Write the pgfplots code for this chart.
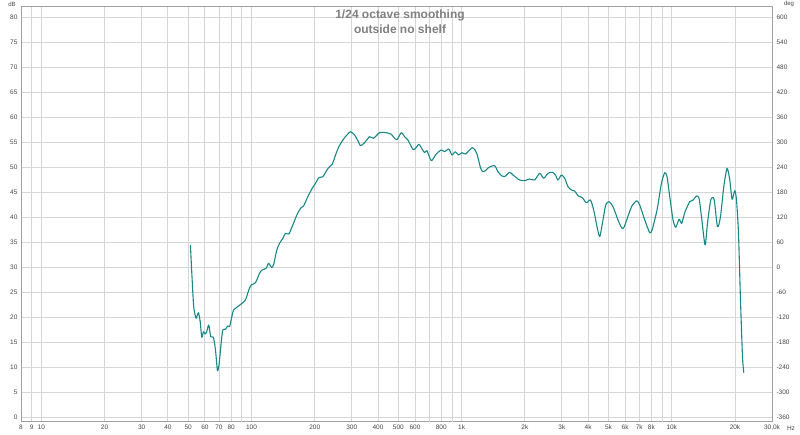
\documentclass[border=0pt]{standalone}
\usepackage{pgfplots}
\pgfplotsset{compat=1.18}
\usepackage{fontspec}
\setmainfont{Liberation Sans}

\definecolor{curve}{RGB}{24,135,135}
\definecolor{gridc}{RGB}{214,214,214}
\definecolor{framec}{RGB}{160,160,160}
\definecolor{labc}{RGB}{70,70,70}
\definecolor{titc}{RGB}{128,128,128}

\begin{document}
\begin{tikzpicture}[x=1pt,y=1pt]
\path[use as bounding box] (0,0) rectangle (800,435);

% right-hand phase scale (labels only)
\begin{axis}[
    at={(21pt,13pt)}, anchor=south west,
    scale only axis, width=751pt, height=415pt,
    xmode=log, xmin=8, xmax=30000,
    ymin=-372, ymax=624,
    axis y line*=right, axis x line=none,
    ytick={-360,-300,...,600},
    major tick length=0pt,
    axis line style={draw=none},
    yticklabel style={font=\fontsize{6.5}{7}\selectfont, text=labc, xshift=1pt},
    /pgf/number format/assume math mode=true,
]
\end{axis}

\begin{axis}[
    at={(21pt,13pt)}, anchor=south west,
    scale only axis, width=751pt, height=415pt,
    xmode=log, xmin=8, xmax=30000,
    ymin=-1, ymax=82,
    xtick={8,9,10,20,30,40,50,60,70,80,100,200,300,400,500,600,800,1000,2000,3000,4000,5000,6000,7000,8000,10000,20000,30000},
    xticklabels={8,9,10,20,30,40,50,60,70,80,100,200,300,400,500,600,800,1k,2k,3k,4k,5k,6k,7k,8k,10k,20k,{30,0k}},
    extra x ticks={90,700,900,9000},
    extra x tick labels={},
    extra x tick style={grid=major},
    ytick={0,5,...,80},
    grid=major,
    grid style={gridc, line width=0.8pt},
    major tick length=0pt,
    axis line style={framec, line width=1pt},
    ticklabel style={font=\fontsize{6.5}{7}\selectfont, text=labc},
    xticklabel style={yshift=1pt},
    /pgf/number format/assume math mode=true,
]
\addplot[curve, line width=1.1pt, smooth, tension=0.4, line join=round] coordinates {
(51.2,34.4) (52.2,27.4) (53.1,22.06) (54.5,19.74) (55.9,20.86) (57.0,19.06)
(58.0,15.94) (59.1,17.06) (60.2,16.6) (61.2,17.06) (62.6,18.4) (64.0,16.06)
(65.9,15.94) (67.4,13.4) (68.9,9.26) (70.2,10.74) (71.7,14.74) (73.0,17.4)
(75.2,17.54) (77.1,18.2) (78.6,18.06) (80.0,19.4) (82.1,21.4) (84.6,21.86)
(89.3,22.6) (93.6,23.4) (97.1,25.4) (99.7,26.4) (104.5,26.86) (109.2,28.74)
(112.4,29.4) (117.5,29.74) (120.5,30.74) (124.5,29.94) (127.3,30.4) (132.0,33.4)
(136.0,34.74) (141.0,35.74) (145.2,36.74) (150.6,36.6) (157.3,38.4) (164.4,40.4)
(171.2,41.74) (176.9,42.2) (185.4,44.06) (194.6,45.74) (201.7,46.74) (209.2,47.86)
(218.6,48.06) (228.4,49.4) (235.2,50.06) (242.3,50.54) (251.2,52.4) (260.4,54.06)
(272.2,55.4) (284.4,56.4) (296.2,57.06) (309.5,56.4) (320.9,55.26) (330.5,54.26)
(345.3,54.86) (364.8,56.06) (381.0,55.74) (406.9,56.86) (437.9,56.86) (462.6,56.54)
(479.7,55.74) (494.1,55.54) (516.3,56.86) (535.3,56.06) (555.0,55.4) (586.3,53.54)
(603.9,53.74) (626.2,54.54) (650.0,53.54) (666.6,52.86) (683.6,53.26) (717.4,51.26)
(757.8,52.6) (800.4,53.4) (829.9,53.06) (870.0,53.6) (899.1,52.4) (933.3,53.06)
(967.6,52.4) (1003,52.86) (1045,52.6) (1124,53.86) (1179,52.8) (1232,49.74)
(1263,49.06) (1297,49.26) (1349,49.94) (1436,50.26) (1489,49.06) (1556,48.2)
(1602,48.06) (1693,48.94) (1755,48.4) (1822,47.86) (1889,47.4) (1995,47.26)
(2108,47.6) (2227,47.4) (2352,48.74) (2458,47.74) (2576,48.74) (2704,48.94)
(2794,48.4) (2874,47.4) (2984,48.4) (3094,47.74) (3208,46.06) (3330,45.4)
(3453,45.2) (3580,44.26) (3756,43.86) (3925,42.86) (4101,43.4) (4252,41.4)
(4409,38.06) (4541,36.06) (4677,38.74) (4850,42.4) (5029,43.06) (5254,42.06)
(5550,39.4) (5759,37.94) (5906,37.8) (6261,40.74) (6484,42.3) (6813,43.24)
(7041,42.4) (7438,39.4) (7857,36.86) (8058,37.4) (8511,41.4) (8932,46.74)
(9261,48.86) (9498,48.06) (9783,44.06) (10143,39.4) (10448,37.94) (10833,39.54)
(11158,38.74) (11570,41.06) (12181,43.06) (12630,43.4) (13110,44.2) (13490,43.74)
(13850,40.06) (14408,34.4) (14791,38.74) (15339,43.4) (15903,43.54) (16507,38.06)
(17059,40.06) (17688,46.06) (18339,49.74) (18892,47.4) (19374,43.54) (19953,45.26)
(20329,43.4) (20779,36.74) (21238,23.4) (21710,12.06) (22022,8.86)
};
\end{axis}

\node[font=\bfseries\fontsize{12}{14.5}\selectfont, text=titc, align=center]
  at (400,413.5) {1/24 octave smoothing\\outside no shelf};
\node[font=\fontsize{6}{7}\selectfont, text=labc] at (12,431) {dB};
\node[font=\fontsize{6}{7}\selectfont, text=labc] at (789,431) {deg};
\node[font=\fontsize{6.5}{7}\selectfont, text=labc] at (791,7) {Hz};
\end{tikzpicture}
\end{document}
